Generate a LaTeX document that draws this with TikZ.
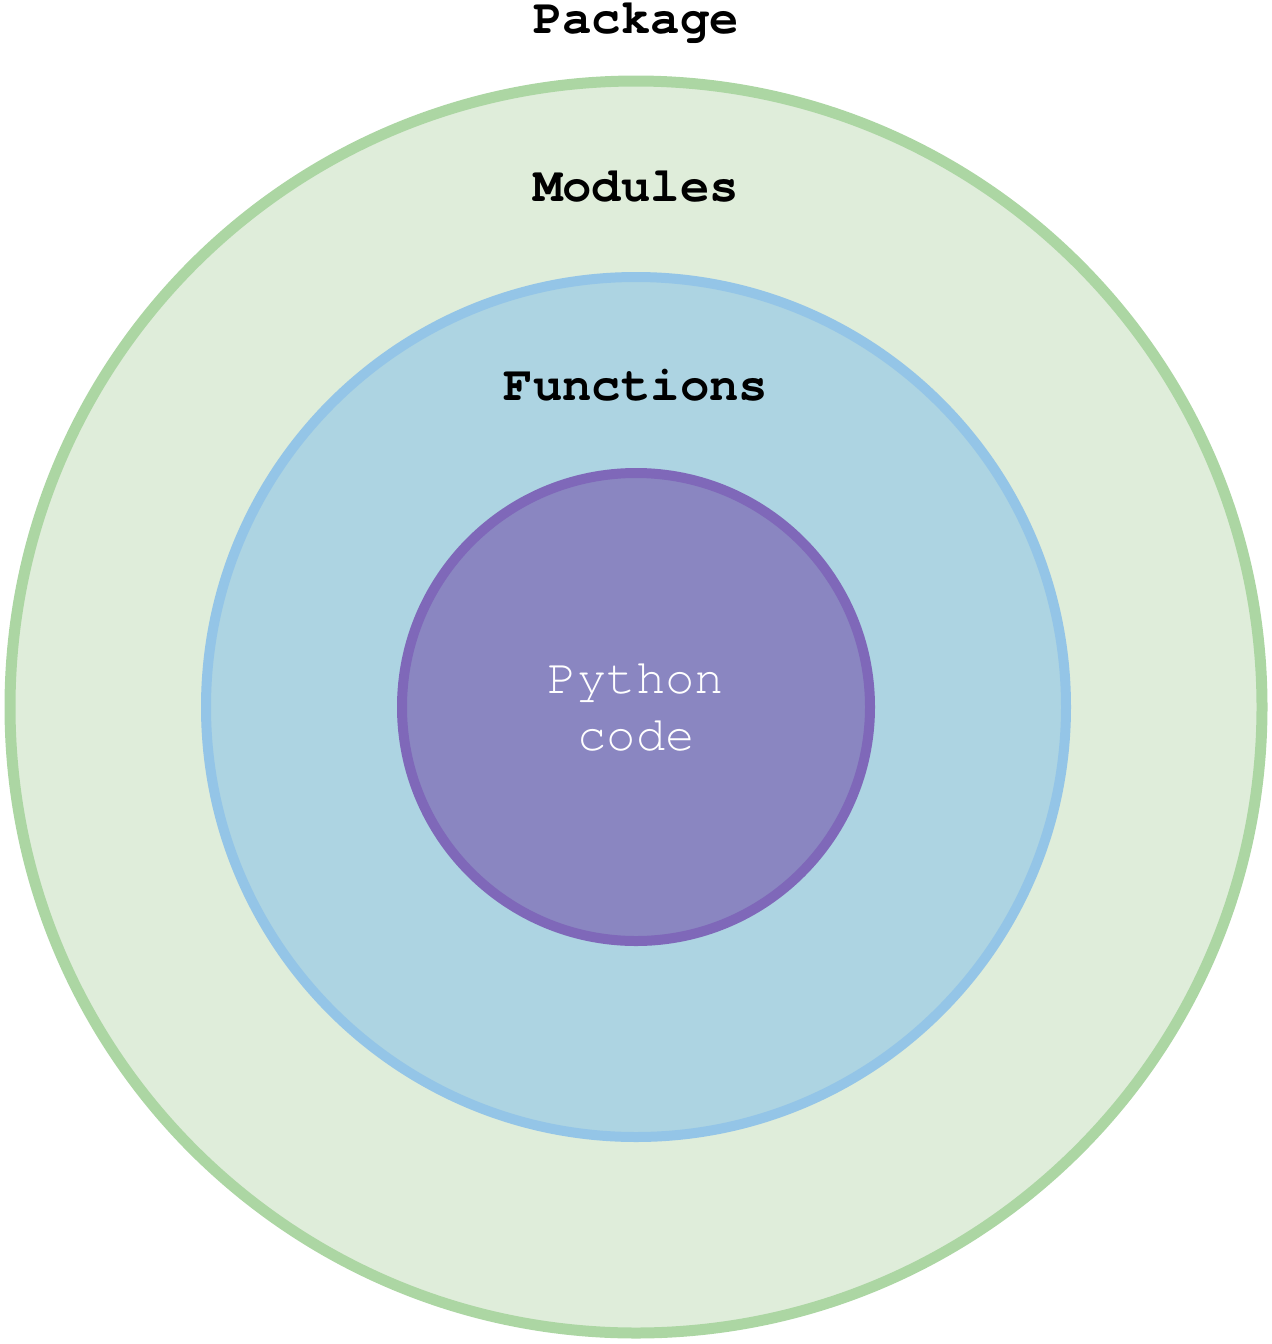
\documentclass[tikz,border=0pt]{standalone}
\usepackage{fontspec}
\setmonofont{texgyrecursor}[Extension=.otf, UprightFont=*-regular, BoldFont=*-bold]
\usepackage{tikz}
\usetikzlibrary{positioning}
\definecolor{lightgreen}{RGB}{223, 237, 218}
\definecolor{greenline}{RGB}{172, 214, 163}
\definecolor{lightblue}{RGB}{173, 212, 226}
\definecolor{blueline}{RGB}{148, 197, 231}
\definecolor{lightpurple}{RGB}{138, 134, 193}
\definecolor{purpleline}{RGB}{127, 104, 185}

\begin{document}
\begin{tikzpicture}[x=0.5pt, y=-0.5pt,
            ring/.style = {circle, inner sep=0pt},
            package/.style = {ring, draw=greenline, fill=lightgreen, line width=5.5pt, minimum size=626pt},
            module/.style = {ring, draw=blueline, fill=lightblue, line width=5pt, minimum size=430pt},
            function/.style = {ring, draw=purpleline, fill=lightpurple, line width=5pt, minimum size=234pt},
            title/.style = {font=\ttfamily\bfseries\fontsize{24.5}{28.5}\selectfont, text=black, inner sep=0pt, anchor=base},
            codetext/.style = {font=\ttfamily\fontsize{24.5}{28.5}\selectfont, text=white, align=center, anchor=base}]
        \useasboundingbox (0,0) rectangle (1272,1344);
        \coordinate (c) at (636,707);

        \node[package] (P) at (c) {};
        \node[module] (M) at (c) {};
        \node[function] (F) at (c) {};

        \node[title] (package) at (636,33) {Package};
        \node[title] (modules) at (636,201) {Modules};
        \node[title] (functions) at (636,400) {Functions};
        \node[codetext] (code) at (636,750) {Python\\code}; % last baseline
\end{tikzpicture}
\end{document}
